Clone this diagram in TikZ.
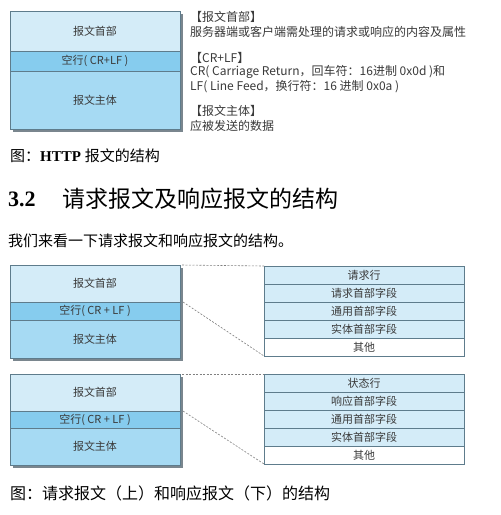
\documentclass[tikz,border=0pt]{standalone}
\usepackage{fontspec}
\setmainfont{Liberation Serif}
\newfontfamily\cjk{Noto Sans CJK SC}
\usetikzlibrary{positioning,fit,backgrounds}
\definecolor{headblue}{HTML}{D4ECF8}
\definecolor{lineblue}{HTML}{86CCEE}
\definecolor{bodyblue}{HTML}{A6DAF3}
\definecolor{edgegray}{HTML}{5E7C8C}
\definecolor{shadegray}{HTML}{7A868E}
\definecolor{inkgray}{HTML}{3A3A3A}
\newcommand{\sz}[1]{\fontsize{#1}{#1}\selectfont}

\begin{document}
\begin{tikzpicture}
            [x=1pt, y=-1pt,
            band/.style={rectangle, draw=edgegray, line width=0.8pt, minimum width=170pt,
                inner sep=0pt, outer sep=0pt, font=\cjk\sz{11}, text=inkgray},
            row/.style={rectangle, draw=edgegray, fill=headblue, line width=0.7pt,
                minimum width=200pt, minimum height=18pt, inner sep=0pt, outer sep=0pt,
                font=\cjk\sz{11}, text=inkgray},
            note/.style={anchor=west, inner sep=0pt, font=\cjk\sz{12}, text=inkgray},
            link/.style={draw=gray, line width=0.6pt, dash pattern=on 2pt off 1.5pt}
            ]

            \useasboundingbox (0,0) rectangle (501,515);
            \begin{scope}[on background layer]
                \fill[white] (0,0) rectangle (501,515);
            \end{scope}

            % message boxes
            \foreach \i/\y/\h/\l/\b/\crlf in {0/31/40/20/58/{CR+LF}, 1/283.5/37/18/38/{CR + LF}, 2/392.5/37/17/37/{CR + LF}}{
                \node (hd\i) [band, fill=headblue, minimum height=\h pt] at (95,\y) {报文首部};
                \node (bl\i) [band, fill=lineblue, minimum height=\l pt, below=0pt of hd\i] {空行( \crlf\ )};
                \node (bd\i) [band, fill=bodyblue, minimum height=\b pt, below=0pt of bl\i] {报文主体};
                \begin{scope}[on background layer]
                    \fill[shadegray] ([shift={(2.5pt,-2.5pt)}]hd\i.north west)
                        rectangle ([shift={(2.5pt,-2.5pt)}]bd\i.south east);
                \end{scope}
            }

            % notes
            \node (n1) [note] at (190,17) {【报文首部】};
            \node (n2) [note] at (190,32) {服务器端或客户端需处理的请求或响应的内容及属性};
            \node (n3) [note] at (190,58) {【CR+LF】};
            \node (n4) [note] at (190,72) {CR( Carriage Return，回车符：16进制 0x0d )和};
            \node (n5) [note] at (190,87) {LF( Line Feed，换行符：16 进制 0x0a )};
            \node (n6) [note] at (190,111) {【报文主体】};
            \node (n7) [note] at (190,126) {应被发送的数据};

            \node (cap0) [anchor=west, inner sep=0pt, font=\sz{15}] at (10,156)
                {{\cjk 图：}\textbf{HTTP} {\cjk 报文的结构}};

            \node (sec) [anchor=west, inner sep=0pt, font=\sz{22}\bfseries] at (8,199) {3.2};
            \node (sectitle) [anchor=west, inner sep=0pt, font=\cjk\sz{23}] at (62,199)
                {请求报文及响应报文的结构};
            \node (intro) [anchor=west, inner sep=0pt, font=\cjk\sz{15}] at (8,241)
                {我们来看一下请求报文和响应报文的结构。};

            % header tables
            \foreach \t/\y/\ttl/\fld in {1/275/请求行/请求, 2/383/状态行/响应}{
                \node (r\t-1) [row] at (364,\y) {\ttl};
                \node (r\t-2) [row, below=0pt of r\t-1] {\fld 首部字段};
                \node (r\t-3) [row, below=0pt of r\t-2] {通用首部字段};
                \node (r\t-4) [row, below=0pt of r\t-3] {实体首部字段};
                \node (r\t-5) [row, fill=white, below=0pt of r\t-4] {其他};
                \draw [link] ([xshift=2pt]hd\t.north east) -- (r\t-1.north west);
                \draw [link] ([xshift=3pt]hd\t.south east) -- (r\t-5.south west);
            }

            \node (cap1) [anchor=west, inner sep=0pt, font=\cjk\sz{16}] at (10,493)
                {图：请求报文（上）和响应报文（下）的结构};

        \end{tikzpicture}
\end{document}
